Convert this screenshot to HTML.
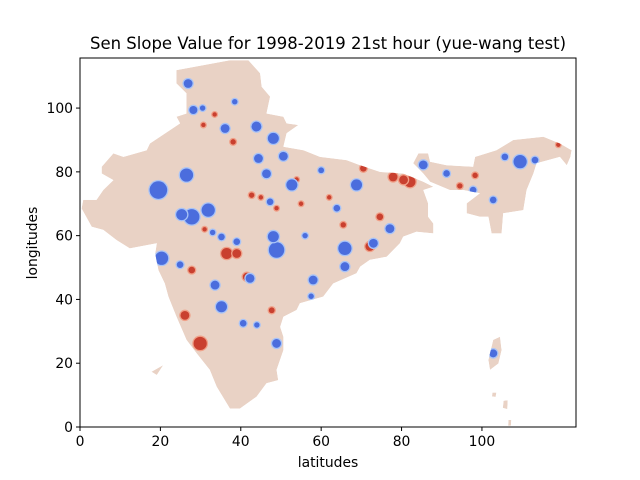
<!DOCTYPE html>
<html><head><meta charset="utf-8"><style>
body{margin:0;background:#fff;}
svg{display:block;font-family:"DejaVu Sans","Liberation Sans",sans-serif;}
</style></head><body>
<svg id="chart" width="640" height="480" viewBox="0 0 640 480">
<rect width="640" height="480" fill="#fff"/>
<text x="328" y="49" font-size="16.5" text-anchor="middle" fill="#000">Sen Slope Value for 1998-2019 21st hour (yue-wang test)</text>
<defs><clipPath id="landclip"><path id="clipPath"/></clipPath></defs>
<g id="map" clip-path="url(#landclip)"></g>
<g id="axes"></g>
<text x="328" y="467" font-size="13.9" text-anchor="middle">latitudes</text>
<text transform="translate(37,243) rotate(-90)" font-size="13.9" text-anchor="middle">longitudes</text>
</svg>
<script>
const xTicks=[0,20,40,60,80,100];
const yTicks=[0,20,40,60,80,100];
const xDomain=[0,123.4];
const yDomain=[0,115.7];
const mainland=[[24.0,111.9],[37.3,115.0],[41.9,115.0],[44.8,110.9],[45.2,106.7],[47.3,103.6],[46.4,98.3],[50.6,97.3],[51.4,95.2],[54.3,94.7],[51.4,92.1],[50.6,87.9],[55.6,86.8],[59.7,84.7],[66.3,83.7],[69.7,82.1],[74.6,80.0],[80.4,79.5],[85.4,76.9],[87.9,75.3],[85.4,74.3],[86.6,70.1],[86.6,65.9],[87.9,63.8],[87.9,60.7],[83.7,61.2],[80.4,59.7],[79.6,57.6],[76.3,53.4],[72.1,52.4],[69.7,50.3],[68.8,48.2],[63.0,45.0],[60.5,40.9],[54.7,38.8],[53.9,36.7],[50.6,34.6],[49.8,31.4],[50.6,28.3],[50.6,24.1],[48.9,17.9],[49.3,14.7],[46.4,13.7],[43.9,9.5],[39.8,5.8],[37.3,5.8],[34.0,12.6],[32.3,17.9],[29.0,23.1],[26.5,27.3],[24.0,34.6],[22.0,40.9],[21.1,45.0],[19.5,49.2],[18.7,54.4],[19.1,57.6],[12.4,56.0],[9.1,58.6],[5.8,61.8],[2.9,62.8],[0.4,68.5],[0.8,71.2],[4.1,71.2],[5.8,74.3],[8.3,77.4],[5.4,79.5],[5.4,81.6],[8.3,85.8],[10.8,84.7],[16.6,86.8],[17.4,88.9],[22.4,93.1],[24.9,95.2],[24.0,97.3],[26.5,98.3],[26.5,104.6],[24.0,107.7]];
const northeast=[[82.9,82.7],[84.2,85.8],[86.6,85.8],[87.1,83.2],[91.2,82.1],[97.8,81.6],[98.3,84.7],[103.6,86.8],[107.8,90.0],[115.3,91.0],[119.4,88.9],[122.3,86.8],[122.0,84.7],[121.1,82.1],[119.4,84.7],[113.6,82.7],[112.8,79.5],[111.1,74.3],[110.3,68.0],[105.3,67.0],[104.9,60.7],[102.4,60.7],[101.6,65.9],[99.5,65.9],[96.2,67.0],[96.2,70.1],[99.5,73.3],[95.3,74.3],[92.0,74.3],[87.1,76.9],[85.4,79.5]];
const andaman=[[102.8,27.3],[104.5,28.3],[104.9,24.1],[104.1,19.9],[102.0,17.9],[101.6,21.0]];
const islandA=[[102.6,10.8],[103.6,10.8],[103.4,9.4],[102.5,9.6]];
const islandB=[[105.4,8.2],[106.4,8.4],[106.3,5.6],[105.2,6.0]];
const islandC=[[106.6,2.2],[107.3,2.2],[107.2,0.4],[106.5,0.4]];
const lakshadweep=[[17.8,17.3],[20.7,19.4],[19.1,16.3]];
const blueX=[26.9,28.2,19.5,26.5,31.9,27.8,25.3,36.1,43.9,48.1,44.4,50.6,52.7,46.4,47.3,63.9,68.8,48.9,48.1,65.9,65.9,58.0,35.2,42.3,33.6,20.3,24.9,48.9,40.6,77.1,73.0,85.4,91.2,97.8,102.8,109.5,105.7,113.2,102.8,39.0,35.2,38.5,30.5,60.0,56.0,33.0,57.5,44.0];
const blueY=[107.7,99.4,74.3,79.0,68.0,65.9,66.6,93.6,94.2,90.5,84.2,84.9,75.9,79.4,70.6,68.6,75.9,55.5,59.7,56.0,50.3,46.1,37.7,46.6,44.5,52.9,50.9,26.2,32.5,62.2,57.6,82.2,79.5,74.3,71.2,83.2,84.7,83.7,23.1,58.1,59.6,102.0,100.0,80.5,60.0,61.0,41.0,32.0];
const blueR=[2,1.8,4,3,3,3.5,2.5,2,2.2,2.5,2,2,2.5,2,1.5,1.5,2.5,3.5,2.5,3,2,2,2.5,2,2,3,1.5,2,1.5,2,2,2,1.5,1.5,1.5,3,1.5,1.5,1.8,1.5,1.5,1.2,1.2,1.3,1.2,1.2,1.2,1.2];
const redX=[29.9,26.1,36.5,39.0,82.1,77.9,70.5,72.1,74.6,65.5,41.5,47.7,30.7,38.1,53.9,42.7,48.9,98.3,94.5,119.0,27.8,80.5,45.0,55.0,62.0,33.5,31.0];
const redY=[26.2,35.0,54.4,54.4,76.9,78.4,81.1,56.6,65.9,63.4,47.1,36.6,94.7,89.4,77.6,72.7,68.6,78.9,75.6,88.5,49.2,77.5,72.0,70.0,72.0,98.0,62.0];
const redR=[3,2,2.5,2,2.5,2,1.5,2,1.5,1.2,1.8,1.3,1,1.2,1,1.2,1,1.2,1.2,1,1.5,2,1,1,1,1,1];

const L=80,R=576,T=58,B=427;
const sx=v=>L+(v-xDomain[0])/(xDomain[1]-xDomain[0])*(R-L);
const sy=v=>B-(v-yDomain[0])/(yDomain[1]-yDomain[0])*(B-T);
const NS='http://www.w3.org/2000/svg';
const map=document.getElementById('map');
const axes=document.getElementById('axes');
const poly=pts=>'M'+pts.map(p=>sx(p[0]).toFixed(1)+','+sy(p[1]).toFixed(1)).join('L')+'Z';
const land=[mainland,northeast,andaman,islandA,islandB,islandC,lakshadweep];
document.getElementById('clipPath').setAttribute('d',land.map(poly).join(''));
const base=document.createElementNS(NS,'path');
base.setAttribute('d',land.map(poly).join(''));
base.setAttribute('fill','#e9d2c5');


map.appendChild(base);
const kx=(R-L)/(xDomain[1]-xDomain[0])*0.55;
function blob(x,y,r,ring,core){
  const g=document.createElementNS(NS,'g');
  const c1=document.createElementNS(NS,'circle');
  c1.setAttribute('cx',sx(x));c1.setAttribute('cy',sy(y));c1.setAttribute('r',(r*kx+1.3).toFixed(1));c1.setAttribute('fill',ring);
  const c2=document.createElementNS(NS,'circle');
  c2.setAttribute('cx',sx(x));c2.setAttribute('cy',sy(y));c2.setAttribute('r',(r*kx).toFixed(1));c2.setAttribute('fill',core);
  g.appendChild(c1);g.appendChild(c2);map.appendChild(g);return g;
}
for(let i=0;i<redX.length;i++){
  const g=blob(redX[i],redY[i],redR[i],'#f0a088','#c9402f');
  
  
}
for(let i=0;i<blueX.length;i++){
  const g=blob(blueX[i],blueY[i],blueR[i],'#a9c4f7','#4b6ddd');
  
  
}
const frame=document.createElementNS(NS,'rect');
frame.setAttribute('x',L);frame.setAttribute('y',T);frame.setAttribute('width',R-L);frame.setAttribute('height',B-T);
frame.setAttribute('fill','none');frame.setAttribute('stroke','#000');frame.setAttribute('stroke-width','1');


axes.appendChild(frame);
xTicks.forEach(v=>{
  const l=document.createElementNS(NS,'line');
  l.setAttribute('x1',sx(v));l.setAttribute('x2',sx(v));l.setAttribute('y1',B);l.setAttribute('y2',B+4);l.setAttribute('stroke','#000');
  
  
  axes.appendChild(l);
  const t=document.createElementNS(NS,'text');
  t.setAttribute('x',sx(v));t.setAttribute('y',B+19);t.setAttribute('font-size','13.9');t.setAttribute('text-anchor','middle');t.textContent=v;
  
  
  axes.appendChild(t);
});
yTicks.forEach(v=>{
  const l=document.createElementNS(NS,'line');
  l.setAttribute('x1',L-4);l.setAttribute('x2',L);l.setAttribute('y1',sy(v));l.setAttribute('y2',sy(v));l.setAttribute('stroke','#000');
  
  
  axes.appendChild(l);
  const t=document.createElementNS(NS,'text');
  t.setAttribute('x',L-7);t.setAttribute('y',sy(v)+5);t.setAttribute('font-size','13.9');t.setAttribute('text-anchor','end');t.textContent=v;
  
  
  axes.appendChild(t);
});
</script>
</body></html>
